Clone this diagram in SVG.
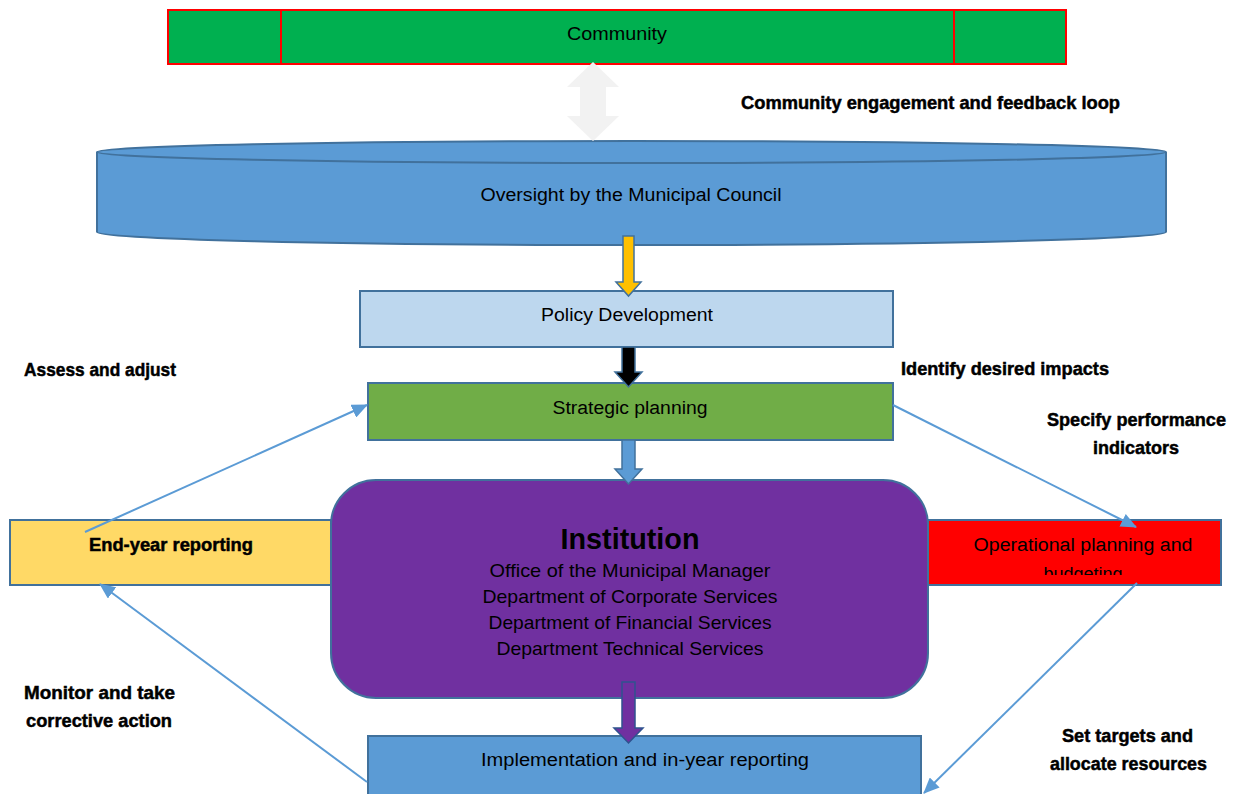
<svg xmlns="http://www.w3.org/2000/svg" width="1243" height="794" viewBox="0 0 1243 794">
<style>
.t{font-family:"Liberation Sans",Arial,sans-serif;font-size:18px;fill:#000;text-anchor:middle}
.b{font-family:"Liberation Sans",Arial,sans-serif;font-size:19px;font-weight:bold;fill:#000;stroke:#000;stroke-width:0.5}
.box{stroke:#41719c;stroke-width:2}
.conn{stroke:#5b9bd5;stroke-width:2;fill:none;marker-end:url(#ah)}
</style>
<defs>
<marker id="ah" markerUnits="userSpaceOnUse" markerWidth="16" markerHeight="14" refX="15" refY="7" orient="auto">
<path d="M0,0 L16,7 L0,14 Z" fill="#5b9bd5"/>
</marker>
<clipPath id="opclip"><rect x="929" y="521" width="291" height="54"/></clipPath>
</defs>
<rect width="1243" height="794" fill="#fff"/>

<g id="community">
<rect x="168" y="10" width="898" height="54" fill="#00b050" stroke="#ff0000" stroke-width="2"/>
<line x1="281" y1="10" x2="281" y2="64" stroke="#ff0000" stroke-width="2"/>
<line x1="954" y1="10" x2="954" y2="64" stroke="#ff0000" stroke-width="2"/>
<text class="t" x="617" y="40" textLength="100" lengthAdjust="spacingAndGlyphs">Community</text>
</g>

<g id="council">
<path d="M97,152 L97,232 A534.5,13 0 0 0 1166,232 L1166,152" fill="#5b9bd5" class="box"/>
<ellipse cx="631.5" cy="152" rx="534.5" ry="11" fill="#5b9bd5" class="box"/>
<text class="t" x="631" y="201" textLength="301" lengthAdjust="spacingAndGlyphs">Oversight by the Municipal Council</text>
</g>

<g id="endyear">
<rect x="10" y="520" width="321" height="65" fill="#ffd966" class="box"/>
<text class="b" x="171" y="551" text-anchor="middle" textLength="164" lengthAdjust="spacingAndGlyphs">End-year reporting</text>
</g>

<g id="operational">
<rect x="928" y="520" width="293" height="65" fill="#ff0000" class="box"/>
<g clip-path="url(#opclip)">
<text class="t" x="1083" y="551" textLength="219" lengthAdjust="spacingAndGlyphs">Operational planning and</text>
<text class="t" x="1083" y="580">budgeting</text>
</g>
</g>

<g id="policy">
<rect x="360" y="291" width="533" height="56" fill="#bdd7ee" class="box"/>
<text class="t" x="627" y="321" textLength="172" lengthAdjust="spacingAndGlyphs">Policy Development</text>
</g>

<g id="strategic">
<rect x="368" y="383" width="525" height="57" fill="#70ad47" class="box"/>
<text class="t" x="630" y="414" textLength="155" lengthAdjust="spacingAndGlyphs">Strategic planning</text>
</g>

<g id="institution">
<rect x="331" y="480" width="597" height="218" rx="45" ry="45" fill="#7030a0" class="box"/>
<text class="t" x="630" y="549" style="font-size:29px;font-weight:bold" textLength="139" lengthAdjust="spacingAndGlyphs">Institution</text>
<text class="t" x="630" y="577" style="font-size:19px" textLength="281" lengthAdjust="spacingAndGlyphs">Office of the Municipal Manager</text>
<text class="t" x="630" y="603" style="font-size:19px" textLength="295" lengthAdjust="spacingAndGlyphs">Department of Corporate Services</text>
<text class="t" x="630" y="629" style="font-size:19px" textLength="283" lengthAdjust="spacingAndGlyphs">Department of Financial Services</text>
<text class="t" x="630" y="655" style="font-size:19px" textLength="267" lengthAdjust="spacingAndGlyphs">Department Technical Services</text>
</g>

<g id="implementation">
<rect x="368" y="736" width="553" height="70" fill="#5b9bd5" class="box"/>
<text class="t" x="645" y="766" textLength="328" lengthAdjust="spacingAndGlyphs">Implementation and in-year reporting</text>
</g>

<g id="connectors">
<polygon points="593,62 619,87 606,87 606,116 619,116 593,141 567,116 580,116 580,87 567,87" fill="#f2f2f2"/>
<polygon points="623,236 634,236 634,282 641,282 628.5,296 616,282 623,282" fill="#ffc000" stroke="#41719c" stroke-width="1.5"/>
<polygon points="622,347 635,347 635,372 642,372 628.5,387 615,372 622,372" fill="#000" stroke="#41719c" stroke-width="1.5"/>
<polygon points="622,440 635,440 635,469 642,469 628.5,484 615,469 622,469" fill="#5b9bd5" stroke="#41719c" stroke-width="1.5"/>
<polygon points="622,682 635,682 635,728 643,728 628.5,743 614,728 622,728" fill="#7030a0" stroke="#2f528f" stroke-width="1.5"/>
<line class="conn" x1="85" y1="532" x2="367" y2="405"/>
<line class="conn" x1="893" y1="405" x2="1136" y2="527"/>
<line class="conn" x1="1137" y1="583" x2="924" y2="793"/>
<line class="conn" x1="367" y1="782" x2="100" y2="584"/>
</g>

<g id="labels">
<text class="b" x="741" y="109" textLength="379" lengthAdjust="spacingAndGlyphs">Community engagement and feedback loop</text>
<text class="b" x="24" y="376" textLength="152" lengthAdjust="spacingAndGlyphs">Assess and adjust</text>
<text class="b" x="901" y="375" textLength="208" lengthAdjust="spacingAndGlyphs">Identify desired impacts</text>
<text class="b" x="1047" y="426" textLength="179" lengthAdjust="spacingAndGlyphs">Specify performance</text>
<text class="b" x="1093" y="454" textLength="86" lengthAdjust="spacingAndGlyphs">indicators</text>
<text class="b" x="24" y="699" textLength="151" lengthAdjust="spacingAndGlyphs">Monitor and take</text>
<text class="b" x="26" y="727" textLength="146" lengthAdjust="spacingAndGlyphs">corrective action</text>
<text class="b" x="1062" y="742" textLength="131" lengthAdjust="spacingAndGlyphs">Set targets and</text>
<text class="b" x="1050" y="770" textLength="157" lengthAdjust="spacingAndGlyphs">allocate resources</text>
</g>
</svg>
